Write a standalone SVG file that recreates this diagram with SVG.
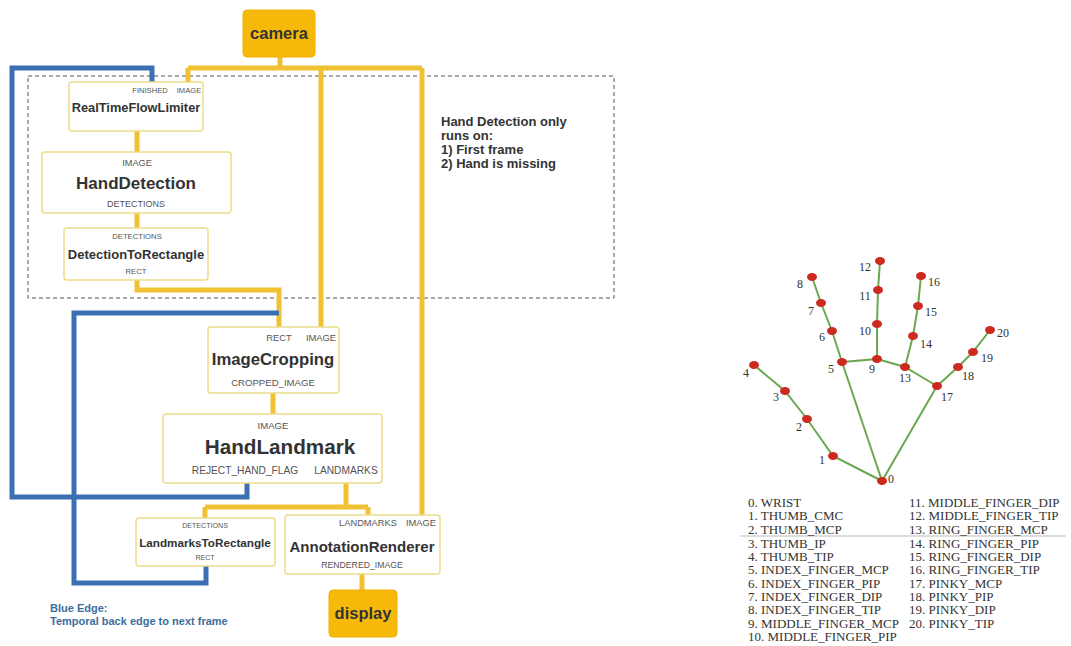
<svg xmlns="http://www.w3.org/2000/svg" width="1071" height="646" viewBox="0 0 1071 646">
<style>
.node{fill:#fff;stroke:#ecdc8a;stroke-width:1.5}
.src{fill:#f6b90a;stroke:#f0b000;stroke-width:1}
.y{fill:none;stroke:#f0c233;stroke-width:5}
.b{fill:none;stroke:#3b70b3;stroke-width:5}
.t{font-family:"Liberation Sans",Arial,sans-serif;font-weight:bold;fill:#333;text-anchor:middle}
.p{font-family:"Liberation Sans",Arial,sans-serif;fill:#555;text-anchor:middle}
.note{font-family:"Liberation Sans",Arial,sans-serif;font-weight:bold;fill:#333;font-size:13px}
.blue{font-family:"Liberation Sans",Arial,sans-serif;font-weight:bold;fill:#3d6d9e;font-size:11px}
.bone{stroke:#6aa84f;stroke-width:2;fill:none}
.dot{fill:#cc2a1e}
.n{font-family:"Liberation Serif","Times New Roman",serif;font-size:12px;fill:#333;text-anchor:middle}
.lg{font-family:"Liberation Serif","Times New Roman",serif;font-size:13px;fill:#333}
</style>
<rect width="1071" height="646" fill="#fff"/>
<rect x="28" y="76" width="586" height="222" fill="none" stroke="#555" stroke-width="1" stroke-dasharray="4,3"/>
<g id="connectors">
<path class="y" d="M280 57V68M188 68H422M188 68V82M321 68V327M422 68V515"/>
<path class="y" d="M137 131V152M137 213V228M137 280V290H279V327M273 393V414"/>
<path class="y" d="M346 483V507M205 507H368M205 507V518M368 507V515M362 574V590"/>
<path class="b" d="M152 82V68H12V497H247V483"/>
<path class="b" d="M279 313H74V583H206V566"/>
</g>
<g id="camera"><rect class="src" x="243" y="10" width="72" height="47" rx="4"/><text class="t" x="279" y="39" font-size="16.5">camera</text></g>
<g id="RealTimeFlowLimiter"><rect class="node" x="69" y="82" width="134" height="49" rx="3"/><text class="p" x="150" y="93" font-size="7.6">FINISHED</text><text class="p" x="189" y="93" font-size="7.6">IMAGE</text><text class="t" x="136" y="112" font-size="12.8">RealTimeFlowLimiter</text></g>
<g id="HandDetection"><rect class="node" x="42" y="152" width="189" height="61" rx="3"/><text class="p" x="137" y="166" font-size="9.2">IMAGE</text><text class="t" x="136" y="189" font-size="17">HandDetection</text><text class="p" x="136" y="207" font-size="9">DETECTIONS</text></g>
<g id="DetectionToRectangle"><rect class="node" x="64" y="228" width="144" height="52" rx="3"/><text class="p" x="137" y="239" font-size="7.7">DETECTIONS</text><text class="t" x="136" y="259" font-size="13">DetectionToRectangle</text><text class="p" x="136" y="274" font-size="7.7">RECT</text></g>
<g id="note"><text class="note" x="441" y="126">Hand Detection only</text><text class="note" x="441" y="140">runs on:</text><text class="note" x="441" y="154">1) First frame</text><text class="note" x="441" y="168">2) Hand is missing</text></g>
<g id="ImageCropping"><rect class="node" x="208" y="327" width="131" height="66" rx="3"/><text class="p" x="279" y="341" font-size="9.4">RECT</text><text class="p" x="321" y="341" font-size="9.4">IMAGE</text><text class="t" x="273" y="365" font-size="16.7">ImageCropping</text><text class="p" x="273" y="386" font-size="9.6">CROPPED_IMAGE</text></g>
<g id="HandLandmark"><rect class="node" x="163" y="414" width="219" height="69" rx="3"/><text class="p" x="273" y="429" font-size="9.6">IMAGE</text><text class="t" x="280" y="454" font-size="20.7">HandLandmark</text><text class="p" x="245" y="474" font-size="10.2">REJECT_HAND_FLAG</text><text class="p" x="346" y="474" font-size="10.2">LANDMARKS</text></g>
<g id="LandmarksToRectangle"><rect class="node" x="136" y="518" width="139" height="48" rx="3"/><text class="p" x="205" y="528" font-size="7.1">DETECTIONS</text><text class="t" x="205" y="547" font-size="11.7">LandmarksToRectangle</text><text class="p" x="205" y="560" font-size="7">RECT</text></g>
<g id="AnnotationRenderer"><rect class="node" x="285" y="515" width="155" height="59" rx="3"/><text class="p" x="368" y="526" font-size="9.3">LANDMARKS</text><text class="p" x="421" y="526" font-size="9.3">IMAGE</text><text class="t" x="362" y="552" font-size="15">AnnotationRenderer</text><text class="p" x="362" y="568" font-size="8.7">RENDERED_IMAGE</text></g>
<g id="display"><rect class="src" x="329" y="590" width="68" height="47" rx="4"/><text class="t" x="363" y="619" font-size="16.5">display</text></g>
<g id="legend-blue"><text class="blue" x="50" y="612">Blue Edge:</text><text class="blue" x="50" y="625">Temporal back edge to next frame</text></g>
<g id="hand">
<path class="bone" d="M882 481L833 456L807 419L785 391L754 365M882 481L842 362L832 331L821 303L812 277M842 362L877 359L877 324L878 290L880 261M877 359L905 367L913 336L918 306L921 276M905 367L937 386L958 367L973 352L990 330M882 481L937 386"/>
<g class="dot">
<ellipse cx="882" cy="481" rx="5" ry="4"/><ellipse cx="833" cy="456" rx="5" ry="4"/><ellipse cx="807" cy="419" rx="5" ry="4"/><ellipse cx="785" cy="391" rx="5" ry="4"/><ellipse cx="754" cy="365" rx="5" ry="4"/>
<ellipse cx="842" cy="362" rx="5" ry="4"/><ellipse cx="832" cy="331" rx="5" ry="4"/><ellipse cx="821" cy="303" rx="5" ry="4"/><ellipse cx="812" cy="277" rx="5" ry="4"/>
<ellipse cx="877" cy="359" rx="5" ry="4"/><ellipse cx="877" cy="324" rx="5" ry="4"/><ellipse cx="878" cy="290" rx="5" ry="4"/><ellipse cx="880" cy="261" rx="5" ry="4"/>
<ellipse cx="905" cy="367" rx="5" ry="4"/><ellipse cx="913" cy="336" rx="5" ry="4"/><ellipse cx="918" cy="306" rx="5" ry="4"/><ellipse cx="921" cy="276" rx="5" ry="4"/>
<ellipse cx="937" cy="386" rx="5" ry="4"/><ellipse cx="958" cy="367" rx="5" ry="4"/><ellipse cx="973" cy="352" rx="5" ry="4"/><ellipse cx="990" cy="330" rx="5" ry="4"/>
</g>
<text class="n" x="891" y="483">0</text><text class="n" x="822" y="464">1</text><text class="n" x="799" y="431">2</text><text class="n" x="776" y="401">3</text><text class="n" x="746" y="377">4</text>
<text class="n" x="831" y="373">5</text><text class="n" x="822" y="341">6</text><text class="n" x="811" y="315">7</text><text class="n" x="800" y="288">8</text>
<text class="n" x="872" y="373">9</text><text class="n" x="865" y="335">10</text><text class="n" x="865" y="300">11</text><text class="n" x="865" y="271">12</text>
<text class="n" x="905" y="382">13</text><text class="n" x="926" y="348">14</text><text class="n" x="931" y="316">15</text><text class="n" x="934" y="286">16</text>
<text class="n" x="947" y="401">17</text><text class="n" x="968" y="380">18</text><text class="n" x="987" y="362">19</text><text class="n" x="1003" y="337">20</text>
</g>
<g id="landmark-list">
<line x1="740" y1="536" x2="1066" y2="536" stroke="#bbb" stroke-width="1"/>
<text class="lg" x="748" y="507">0. WRIST</text>
<text class="lg" x="748" y="520">1. THUMB_CMC</text>
<text class="lg" x="748" y="534">2. THUMB_MCP</text>
<text class="lg" x="748" y="547.5">3. THUMB_IP</text>
<text class="lg" x="748" y="561">4. THUMB_TIP</text>
<text class="lg" x="748" y="574">5. INDEX_FINGER_MCP</text>
<text class="lg" x="748" y="587.5">6. INDEX_FINGER_PIP</text>
<text class="lg" x="748" y="601">7. INDEX_FINGER_DIP</text>
<text class="lg" x="748" y="614">8. INDEX_FINGER_TIP</text>
<text class="lg" x="748" y="627.5">9. MIDDLE_FINGER_MCP</text>
<text class="lg" x="748" y="641">10. MIDDLE_FINGER_PIP</text>
<text class="lg" x="909" y="507">11. MIDDLE_FINGER_DIP</text>
<text class="lg" x="909" y="520">12. MIDDLE_FINGER_TIP</text>
<text class="lg" x="909" y="534">13. RING_FINGER_MCP</text>
<text class="lg" x="909" y="547.5">14. RING_FINGER_PIP</text>
<text class="lg" x="909" y="561">15. RING_FINGER_DIP</text>
<text class="lg" x="909" y="574">16. RING_FINGER_TIP</text>
<text class="lg" x="909" y="587.5">17. PINKY_MCP</text>
<text class="lg" x="909" y="601">18. PINKY_PIP</text>
<text class="lg" x="909" y="614">19. PINKY_DIP</text>
<text class="lg" x="909" y="627.5">20. PINKY_TIP</text>
</g>
</svg>
